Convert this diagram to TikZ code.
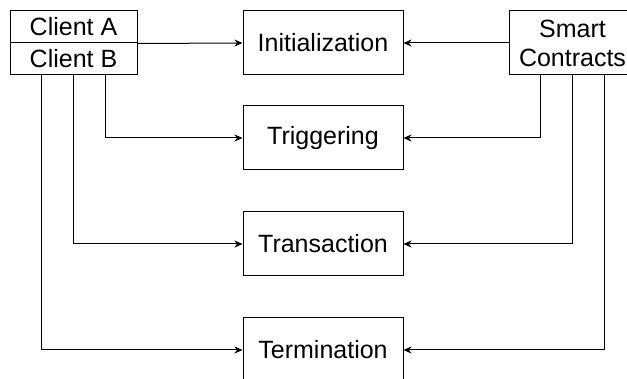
\documentclass[tikz,border=0pt]{standalone}
\usepackage{fontspec}
\setmainfont{Liberation Sans}
\usetikzlibrary{arrows.meta}
\begin{document}
\begin{tikzpicture}[x=1pt,y=-1pt,
  box/.style={draw=black, line width=1pt, fill=white, inner sep=0pt,
    font=\fontsize{25}{29}\selectfont, align=center},
  wide/.style={box, minimum width=160pt, minimum height=64pt},
  half/.style={box, minimum width=127pt, minimum height=32pt},
  conn/.style={draw=black, line width=1pt,
    -{Stealth[length=8pt,width=7pt,inset=2.5pt]}}
]
\useasboundingbox (0,0) rectangle (627,379);
\clip (0,0) rectangle (627,379);

% clients (two stacked halves)
\node[half] (ca) at (73.5,27) {Client A};
\node[half] (cb) at (73.5,59) {Client B};

% protocol phases
\node[wide] (init) at (323,43)  {Initialization};
\node[wide] (trig) at (323,138) {Triggering};
\node[wide] (tran) at (323,244) {Transaction};
\node[wide] (term) at (323,350) {Termination};

% contracts
\node[box, minimum width=127pt, minimum height=64pt] (sc) at (572.5,43) {Smart\\Contracts};

% client side links
\draw[conn] (ca.south east) -- (init.west);
\draw[conn] ([xshift=31.75pt]cb.south) |- (trig.west);
\draw[conn] (cb.south) |- (tran.west);
\draw[conn] ([xshift=-31.75pt]cb.south) |- (term.west);

% contract side links
\draw[conn] (sc.west) -- (init.east);
\draw[conn] ([xshift=-31.75pt]sc.south) |- (trig.east);
\draw[conn] (sc.south) |- (tran.east);
\draw[conn] ([xshift=31.75pt]sc.south) |- (term.east);
\end{tikzpicture}
\end{document}
